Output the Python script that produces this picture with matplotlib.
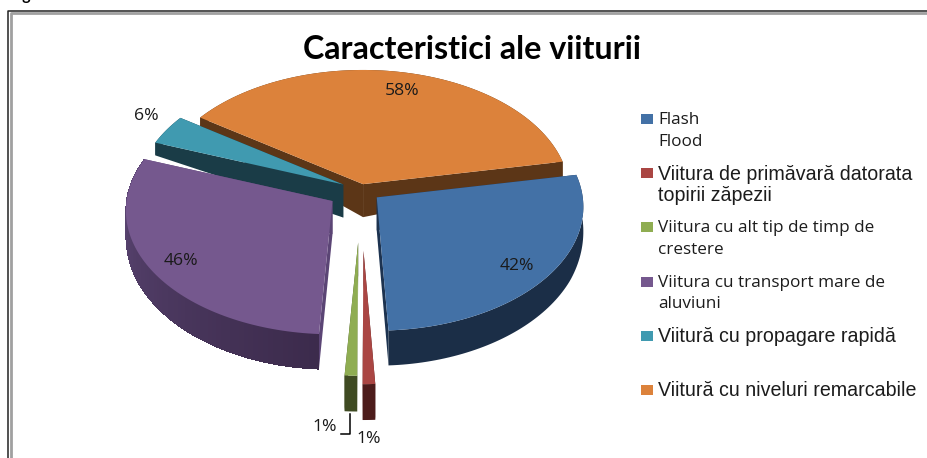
import numpy as np
import matplotlib
matplotlib.use('Agg')
import matplotlib.pyplot as plt
from matplotlib.colors import to_rgb
from matplotlib.patches import Rectangle

# values (shares of the pie, labels are rounded)
categories = ['Flash\nFlood',
              'Viitura de primăvară datorata\ntopirii zăpezii',
              'Viitura cu alt tip de timp de\ncrestere',
              'Viitura cu transport mare de\naluviuni',
              'Viitură cu propagare rapidă',
              'Viitură cu niveluri remarcabile']
values = [42, 1.4, 1.4, 46, 6, 58]
explode = [20, 102, 88, 34, 20, 10]

top_colors = ['#4371A6', '#AA4643', '#8FAD52', '#75588E', '#409AB0', '#DC823B']
cut_colors = ['#1D3350', '#4D1C1B', '#3F4B22', '#5B4575', '#1A3C47', '#5C3617']
rim_start = ['#1B2E47', '#4D1C1B', '#3F4B22', '#3C2B4C', '#1A3C47', '#5C3617']
rim_end = ['#1B2E47', '#4D1C1B', '#3F4B22', '#5E4877', '#1A3C47', '#5C3617']

label_pos = [(517, 266), (369, 439), (325, 427), (181, 261), (146, 116), (402, 91)]
legend_y = [120, 174, 228, 283, 337, 391]
legend_fonts = ['Open Sans', 'Liberation Sans', 'Open Sans', 'Open Sans', 'Liberation Sans', 'Liberation Sans']
legend_sizes = [12.3, 14.1, 12.3, 12.3, 14.1, 14.1]

R = 206
K = 0.597
P = 0.077
CX, CY = 361, 190
START = 79.3
APEX_H = 33

plt.rcParams['font.family'] = ['Open Sans', 'DejaVu Sans']

fig = plt.figure(figsize=(9.28, 4.58), dpi=100)
ax = fig.add_axes([0, 0, 1, 1])
ax.set_xlim(0, 928)
ax.set_ylim(458, 0)
ax.axis('off')


def project(ang, apex, r=R):
    a = np.radians(ang)
    u = r * np.sin(a)
    v = r * np.cos(a)
    w = 1 / (1 + P * v / R)
    return apex[0] + u * w, apex[1] - K * v * w


def rim_height(y):
    return np.interp(y, [119, 163, 184, 210, 250, 330, 390], [9, 16, 22, 25, 30, 35, 36])


shares = np.array(values) / sum(values) * 360
starts = START + np.concatenate([[0], np.cumsum(shares)[:-1]])

# back slices first, near ones on top
for z, i in enumerate([5, 4, 3, 0, 1, 2]):
    a0 = starts[i]
    a1 = a0 + shares[i]
    mid = np.radians((a0 + a1) / 2)
    apex = (CX + explode[i] * np.sin(mid), CY - K * explode[i] * np.cos(mid))
    angs = np.linspace(a0, a1, 80)
    xs, ys = project(angs, apex)
    hs = rim_height(ys)

    # cut faces
    for j in [0, -1]:
        ax.fill([apex[0], xs[j], xs[j], apex[0]],
                [apex[1], ys[j], ys[j] + hs[j], apex[1] + APEX_H],
                color=cut_colors[i], lw=0, zorder=z + 2)
    # outer wall, a plain band and then the shading on top of it
    c0 = np.array(to_rgb(rim_start[i]))
    c1 = np.array(to_rgb(rim_end[i]))
    ax.fill(np.r_[xs, xs[::-1]], np.r_[ys, (ys + hs)[::-1]], color=(c0 + c1) / 2, lw=0, zorder=z + 2)
    if rim_start[i] != rim_end[i]:
        for j in range(len(angs) - 1):
            c = c0 + (c1 - c0) * j / (len(angs) - 2)
            ax.fill([xs[j], xs[j + 1], xs[j + 1], xs[j]],
                    [ys[j], ys[j + 1], ys[j + 1] + hs[j + 1], ys[j] + hs[j]],
                    color=c, lw=0, antialiased=False, zorder=z + 2.2)
    # top face
    ax.fill(np.r_[apex[0], xs], np.r_[apex[1], ys], color=top_colors[i], lw=0, zorder=z + 2.5)

# labels
for v, (x, y) in zip(values, label_pos):
    ax.text(x, y, f'{v:.0f}%', ha='center', va='center', fontsize=12.6, color='#1a1a1a', zorder=20)

# leader line of the green slice
ax.plot([350, 350, 341], [414, 434, 434], color='black', lw=1.1, zorder=19)

ax.text(472, 49.5, 'Caracteristici ale viiturii', ha='center', va='center',
        fontsize=23.2, fontweight='bold', family=['Lato', 'DejaVu Sans'], color='black')

# legend
for i, lab in enumerate(categories):
    ax.add_patch(Rectangle((641, legend_y[i] - 6), 12, 9.5, color=top_colors[i], lw=0))
    for n, line in enumerate(lab.split('\n')):
        ax.text(658, legend_y[i] + n * 21.5, line, ha='left', va='center',
                fontsize=legend_sizes[i], family=[legend_fonts[i], 'DejaVu Sans'], color='#1c1c1c')

# frame of the pasted picture
ax.plot([8.5, 8.5, 928], [458, 10.5, 10.5], color='#222222', lw=1.1, zorder=21)
ax.plot([10.8, 10.8, 928], [458, 12.6, 12.6], color='#a0a0a0', lw=2.0, zorder=20)

# caption above, cut by the crop
ax.text(10, 0, 'Figura', ha='left', va='baseline', fontsize=11.5, fontweight='bold',
        family=['Lato', 'DejaVu Sans'], color='black')

fig.savefig('out.png', dpi=100)
